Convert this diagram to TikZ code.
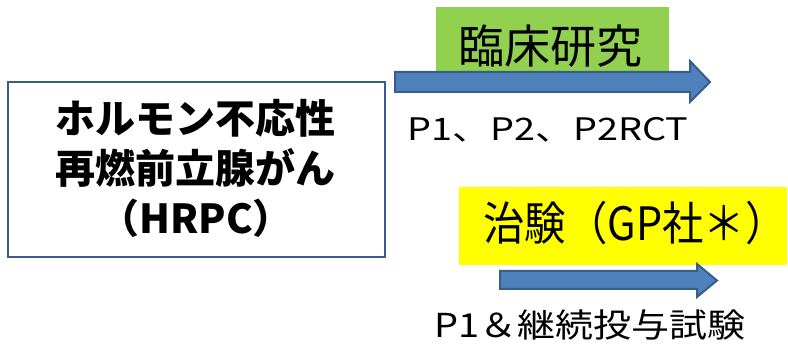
\documentclass[tikz,border=0pt]{standalone}
\usepackage{fontspec}
\usepackage{graphicx}
\setmainfont{Noto Sans CJK JP}
\newfontfamily\jp{Noto Sans CJK JP}
\definecolor{boxblue}{HTML}{385D8A}
\definecolor{arrowfill}{HTML}{4F81BD}
\definecolor{labelgreen}{HTML}{92D050}
\definecolor{labelyellow}{HTML}{FFFF00}
\begin{document}
\begin{tikzpicture}[x=1pt,y=-1pt,
  blockarrow/.style={draw=boxblue,fill=arrowfill,line width=2pt,line join=miter},
  lbl/.style={inner sep=0pt,font=\jp}]
\useasboundingbox (0,0) rectangle (788,344);
% left box
\node[draw=boxblue,line width=2pt,minimum width=377pt,minimum height=175pt,inner sep=0pt] (hrpc) at (196.5,169.5) {};
\node[lbl,align=center,font=\jp\bfseries\fontsize{40}{50}\selectfont] (hrpct) at (196,168) {ホルモン不応性\\再燃前立腺がん\\（HRPC）};
% green label
\node[fill=labelgreen,minimum width=233pt,minimum height=65pt,inner sep=0pt] (green) at (552.5,39.5) {};
\node[lbl,font=\jp\fontsize{46}{50}\selectfont] (greent) at (550,46) {臨床研究};
% top arrow
\draw[blockarrow] (395,72) coordinate (a1s) -- (690,72) -- (690,61) -- (710,82) coordinate (a1t) -- (690,102) -- (690,92) -- (395,92) -- cycle;
\node[lbl,font=\jp\fontsize{31}{36}\selectfont] (p1) at (548,130) {\scalebox{1.22}[1]{P1、P2、P2RCT}};
% yellow label
\node[fill=labelyellow,minimum width=328pt,minimum height=78pt,inner sep=0pt] (yellow) at (623,226) {};
\node[lbl,font=\jp\fontsize{46}{50}\selectfont] (yellowt) at (635,223) {\scalebox{0.9}[1]{治験（GP社＊）}};
% bottom arrow
\draw[blockarrow] (500,271) coordinate (a2s) -- (697,271) -- (697,264) -- (717,280.5) coordinate (a2t) -- (697,297) -- (697,289) -- (500,289) -- cycle;
\node[lbl,font=\jp\fontsize{33}{40}\selectfont] (p1b) at (590,325) {\scalebox{1.15}[1]{P1＆継続投与試験}};
\end{tikzpicture}
\end{document}
